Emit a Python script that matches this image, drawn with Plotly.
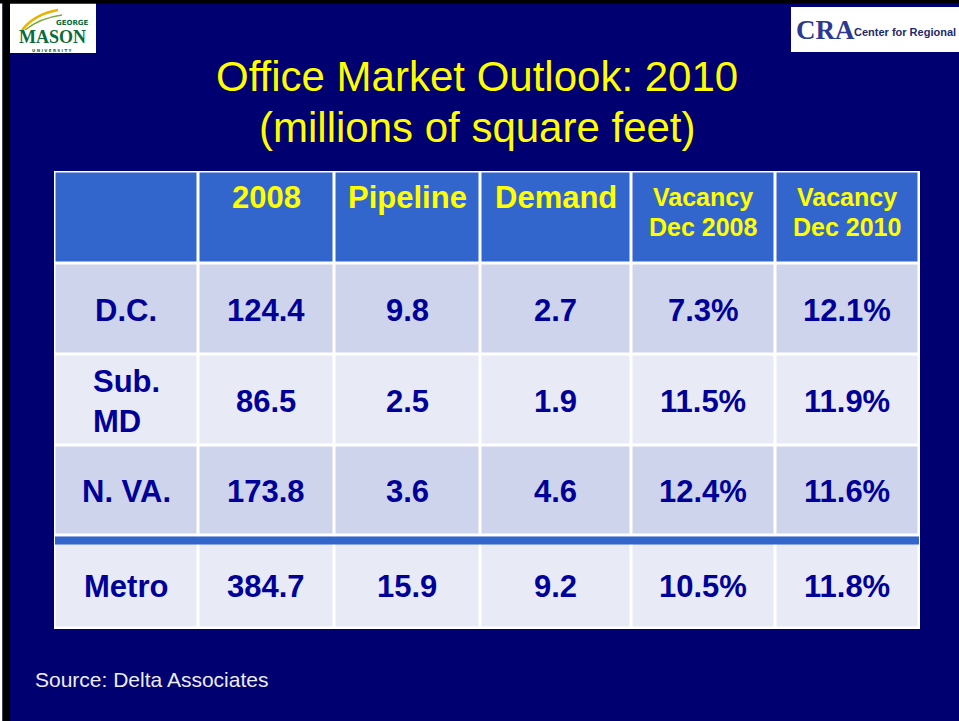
import plotly.graph_objects as go

# ---------------- data ----------------
col_headers = ["", "2008", "Pipeline", "Demand", "Vacancy<br>Dec 2008", "Vacancy<br>Dec 2010"]
regions = ["D.C.", "Sub.<br>MD", "N. VA.", "Metro"]
stock_2008 = [124.4, 86.5, 173.8, 384.7]
pipeline = [9.8, 2.5, 3.6, 15.9]
demand = [2.7, 1.9, 4.6, 9.2]
vacancy_dec_2008 = [7.3, 11.5, 12.4, 10.5]
vacancy_dec_2010 = [12.1, 11.9, 11.6, 11.8]

title_lines = ["Office Market Outlook: 2010", "(millions of square feet)"]
source_text = "Source: Delta Associates"

# ---------------- layout constants (pixels) ----------------
W, H = 959, 721
BG = "rgb(0,0,112)"
HEAD_BLUE = "#3366CC"
ROW_DARK = "#CED4EB"
ROW_LIGHT = "#E8EAF6"
TXT_BLUE = "#000099"
YELLOW = "#FFFF00"

x_edges = [54.5, 198, 334, 480, 631, 775, 919.5]
# header, D.C., Sub. MD, N. VA., Metro
y_edges = [171.5, 263.5, 354.5, 445.5, 535.5, 628.5]
row_kind = [0, 1, 2, 1, 2]  # 0 = blue, 1 = dark row, 2 = light row
sep_x = [55, 919]
sep_y = [536.5, 544.5]

z = [[k] * (len(x_edges) - 1) for k in row_kind]

fig = go.Figure()

fig.add_trace(go.Heatmap(
    x=x_edges, y=y_edges, z=z,
    zmin=0, zmax=2,
    colorscale=[[0, HEAD_BLUE], [0.5, ROW_DARK], [1, ROW_LIGHT]],
    showscale=False, xgap=3, ygap=3, hoverinfo="skip",
))
# blue separator above the Metro total row
fig.add_trace(go.Heatmap(
    x=sep_x, y=sep_y, z=[[0]],
    zmin=0, zmax=1, colorscale=[[0, HEAD_BLUE], [1, HEAD_BLUE]],
    showscale=False, hoverinfo="skip",
))

col_centers = [(x_edges[i] + x_edges[i + 1]) / 2 for i in range(len(x_edges) - 1)]
row_centers = [(y_edges[i] + y_edges[i + 1]) / 2 + 1 for i in (1, 2, 3)]
row_centers.append((sep_y[1] + y_edges[5]) / 2)

annotations = []
# header
for j, h in enumerate(col_headers):
    if not h:
        continue
    lines = h.split("<br>")
    two = len(lines) > 1
    for k, ln in enumerate(lines):
        annotations.append(dict(
            x=col_centers[j], y=y_edges[0] + (25 if two else 26) + 30 * k, xref="x", yref="y",
            text="<b>%s</b>" % ln, showarrow=False, yanchor="middle", xanchor="center",
            font=dict(family="Liberation Sans, Arial", size=25 if two else 31, color=YELLOW),
        ))

columns_values = [
    [f"{v:.1f}" for v in stock_2008],
    [f"{v:.1f}" for v in pipeline],
    [f"{v:.1f}" for v in demand],
    [f"{v:.1f}%" for v in vacancy_dec_2008],
    [f"{v:.1f}%" for v in vacancy_dec_2010],
]
for i, r in enumerate(regions):
    cells = [r] + [col[i] for col in columns_values]
    for j, t in enumerate(cells):
        annotations.append(dict(
            x=col_centers[j], y=row_centers[i], xref="x", yref="y",
            text="<b>%s</b>" % t, showarrow=False, yanchor="middle", xanchor="center",
            font=dict(family="Liberation Sans, Arial", size=31, color=TXT_BLUE),
            align="left",
        ))

# title
for k, line in enumerate(title_lines):
    annotations.append(dict(
        x=477, y=76 + 51 * k, xref="x", yref="y", text=line, showarrow=False,
        yanchor="middle", xanchor="center",
        font=dict(family="Liberation Sans, Arial", size=42, color=YELLOW),
    ))

# source
annotations.append(dict(
    x=33, y=679, xref="x", yref="y", text=source_text, showarrow=False,
    xanchor="left", yanchor="middle",
    font=dict(family="Liberation Sans, Arial", size=21, color="#ECECF4"),
))

# logos (text)
GREEN = "#0B6B3A"
annotations += [
    dict(x=91, y=23, xref="x", yref="y", text="<b>GEORGE</b>", showarrow=False,
         xanchor="right", yanchor="middle",
         font=dict(family="DejaVu Sans", size=7, color=GREEN)),
    dict(x=52, y=36.5, xref="x", yref="y", text="<b>MASON</b>", showarrow=False,
         xanchor="center", yanchor="middle",
         font=dict(family="Liberation Serif", size=18, color=GREEN)),
    dict(x=52, y=50, xref="x", yref="y", text="<b>U N I V E R S I T Y</b>", showarrow=False,
         xanchor="center", yanchor="middle",
         font=dict(family="DejaVu Sans", size=4, color=GREEN)),
    dict(x=794, y=30, xref="x", yref="y", text="<b>CRA</b>", showarrow=False,
         xanchor="left", yanchor="middle",
         font=dict(family="Liberation Serif", size=27, color="#2B3990")),
    dict(x=852, y=32, xref="x", yref="y", text="<b>Center for Regional Analysis</b>", showarrow=False,
         xanchor="left", yanchor="middle",
         font=dict(family="Liberation Sans Narrow, Liberation Sans", size=11, color="#1F2A6B")),
]

shapes = [
    # white under-layer for table grid
    dict(type="rect", xref="x", yref="y", x0=54, x1=920, y0=171, y1=629,
         fillcolor="white", line=dict(width=0), layer="below"),
    # frame
    dict(type="rect", xref="x", yref="y", x0=0, x1=W, y0=0, y1=3.5,
         fillcolor="black", line=dict(width=0), layer="above"),
    dict(type="rect", xref="x", yref="y", x0=0, x1=2.5, y0=0, y1=H,
         fillcolor="white", line=dict(width=0), layer="below"),
    dict(type="rect", xref="x", yref="y", x0=2.5, x1=10, y0=0, y1=H,
         fillcolor="black", line=dict(width=0), layer="below"),
    # logo boxes
    dict(type="rect", xref="x", yref="y", x0=10, x1=96, y0=3.5, y1=53,
         fillcolor="white", line=dict(width=0), layer="below"),
    dict(type="rect", xref="x", yref="y", x0=791, x1=W, y0=7, y1=52,
         fillcolor="white", line=dict(width=0), layer="below"),
    # GMU swoosh
    dict(type="path", xref="x", yref="y",
         path="M 22 30 Q 35 14 58 10", line=dict(color="#E8B400", width=2.5), layer="above"),
    dict(type="path", xref="x", yref="y",
         path="M 25 30 Q 40 18 62 15", line=dict(color="#7DA83A", width=1.5), layer="above"),
]

fig.update_layout(
    width=W, height=H,
    margin=dict(l=0, r=0, t=0, b=0),
    paper_bgcolor=BG, plot_bgcolor=BG,
    xaxis=dict(range=[0, W], visible=False, fixedrange=True),
    yaxis=dict(range=[H, 0], visible=False, fixedrange=True),
    annotations=annotations, shapes=shapes,
    showlegend=False,
)

fig.write_html(
    "out.html",
    config={"displayModeBar": False},
    post_script="document.body.style.margin='0';document.body.style.padding='0';"
                "document.body.style.overflow='hidden';"
                "document.body.style.background='rgb(0,0,112)';",
)
